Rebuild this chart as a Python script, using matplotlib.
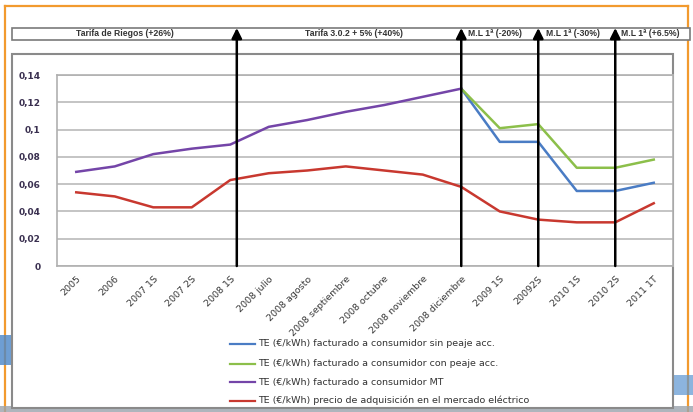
import matplotlib
matplotlib.use("Agg")
import matplotlib.pyplot as plt
from matplotlib.patches import Rectangle
from matplotlib.transforms import blended_transform_factory

# Categories along the x axis
categories = ["2005", "2006", "2007 1S", "2007 2S", "2008 1S", "2008 julio",
              "2008 agosto", "2008 septiembre", "2008 octubre", "2008 noviembre",
              "2008 diciembre", "2009 1S", "20092S", "2010 1S", "2010 2S", "2011 1T"]

# Energy term (€/kWh); None where a series has no value
sin_peaje = [None] * 10 + [0.130, 0.091, 0.091, 0.055, 0.055, 0.061]
con_peaje = [None] * 10 + [0.130, 0.101, 0.104, 0.072, 0.072, 0.078]
mt = [0.069, 0.073, 0.082, 0.086, 0.089, 0.102, 0.107, 0.113, 0.118, 0.124,
      0.130] + [None] * 5
mercado = [0.054, 0.051, 0.043, 0.043, 0.063, 0.068, 0.070, 0.073, 0.070,
           0.067, 0.058, 0.040, 0.034, 0.032, 0.032, 0.046]

series_labels = ["TE (€/kWh) facturado a consumidor sin peaje acc.",
                 "TE (€/kWh) facturado a consumidor con peaje acc.",
                 "TE (€/kWh) facturado a consumidor MT",
                 "TE (€/kWh) precio de adquisición en el mercado eléctrico"]

# Tariff periods in the banner and the category positions of the change arrows
period_labels = ["Tarifa de Riegos (+26%)", "Tarifa 3.0.2 + 5% (+40%)",
                 "M.L 1ª (-20%)", "M.L 1ª (-30%)", "M.L 1ª (+6.5%)"]
change_positions = [4.17, 10.0, 12.0, 14.0]

yticks = [0, 0.02, 0.04, 0.06, 0.08, 0.1, 0.12, 0.14]
ytick_labels = ["0", "0,02", "0,04", "0,06", "0,08", "0,1", "0,12", "0,14"]

colors = ["#4a7cc4", "#8cbf4a", "#7445a8", "#c8382f"]

W, H = 693, 412
fig = plt.figure(figsize=(W / 100, H / 100), dpi=100)
fig.patch.set_facecolor("white")


def fx(px):
    return px / W


def fy(py):
    return 1 - py / H


def back(artist, z=-5):
    artist.set_zorder(z)
    fig.add_artist(artist)


# Slide decoration: orange border and blue swooshes
back(plt.Line2D([fx(5), fx(5)], [fy(6), fy(412)], color="#f29a2e", lw=1.6))
back(plt.Line2D([fx(5), fx(688)], [fy(6), fy(6)], color="#f29a2e", lw=1.6))
back(plt.Line2D([fx(688), fx(688)], [fy(6), fy(412)], color="#f29a2e", lw=1.6))
back(Rectangle((fx(0), fy(365)), fx(12), fy(335) - fy(365),
               transform=fig.transFigure, color="#4a86c8", alpha=0.8, lw=0))
back(Rectangle((fx(672), fy(395)), fx(21), fy(375) - fy(395),
               transform=fig.transFigure, color="#5b95d0", alpha=0.7, lw=0))
back(Rectangle((fx(0), fy(412)), 1, fy(406) - fy(412),
               transform=fig.transFigure, color="#9aa3ad", alpha=0.8, lw=0))

# Chart frame
back(Rectangle((fx(12.5), fy(408)), fx(672.5 - 12.5), fy(54) - fy(408),
               transform=fig.transFigure, facecolor="white",
               edgecolor="#8a8a8a", lw=1.5), -4)

# Banner with the tariff periods
back(Rectangle((fx(12.5), fy(40)), fx(690 - 12.5), fy(27.5) - fy(40),
               transform=fig.transFigure, facecolor="white",
               edgecolor="#7a7a7a", lw=1.2), -4)
banner_x = [125, 354, 495, 573, 650]
for px, txt in zip(banner_x, period_labels):
    fig.text(fx(px), fy(33.8), txt, ha="center", va="center", fontsize=6.2,
             fontweight="bold", color="#333333",
             family=["Liberation Sans Narrow", "Liberation Sans", "DejaVu Sans"])

ax = fig.add_axes([fx(57), fy(266), fx(673 - 57), fy(75) - fy(266)])
ax.set_facecolor("white")
x = list(range(len(categories)))

for vals, c in zip([sin_peaje, con_peaje, mt, mercado], colors):
    xs = [i for i, v in zip(x, vals) if v is not None]
    ys = [v for v in vals if v is not None]
    ax.plot(xs, ys, color=c, lw=1.8, solid_joinstyle="round", zorder=3)

ax.set_xlim(-0.5, len(categories) - 0.5)
ax.set_ylim(0, 0.14)
ax.set_yticks(yticks)
ax.set_yticklabels(ytick_labels, fontsize=6.5, color="#3a3050", fontweight="bold")
ax.grid(axis="y", color="#c4c4c4", lw=1.4)
ax.set_axisbelow(True)
ax.tick_params(axis="y", length=0, pad=12)
ax.set_xticks(x)
ax.set_xticklabels(categories, rotation=45, ha="right", rotation_mode="anchor",
                   fontsize=6.8, color="#3a3a3a")
ax.tick_params(axis="x", length=0, pad=6)
for s in ax.spines.values():
    s.set_color("#b0b0b0")
    s.set_linewidth(1.2)

# Arrows marking the tariff changes, running up to the banner
trans = blended_transform_factory(ax.transData, fig.transFigure)
for xp in change_positions:
    ax.annotate("", xy=(xp, fy(28)), xycoords=trans,
                xytext=(xp, 0), textcoords="data",
                arrowprops=dict(arrowstyle="-|>,head_length=0.6,head_width=0.3",
                                color="black", lw=1.8, shrinkA=0, shrinkB=0),
                annotation_clip=False, zorder=5)

# Legend
leg_y = [344, 363.5, 382, 400.5]
for py, c, lab in zip(leg_y, colors, series_labels):
    fig.add_artist(plt.Line2D([fx(230), fx(255)], [fy(py), fy(py)], color=c, lw=1.6))
    fig.text(fx(258), fy(py), lab, ha="left", va="center", fontsize=6.8,
             color="#333333")

fig.savefig("out.png", dpi=100)
